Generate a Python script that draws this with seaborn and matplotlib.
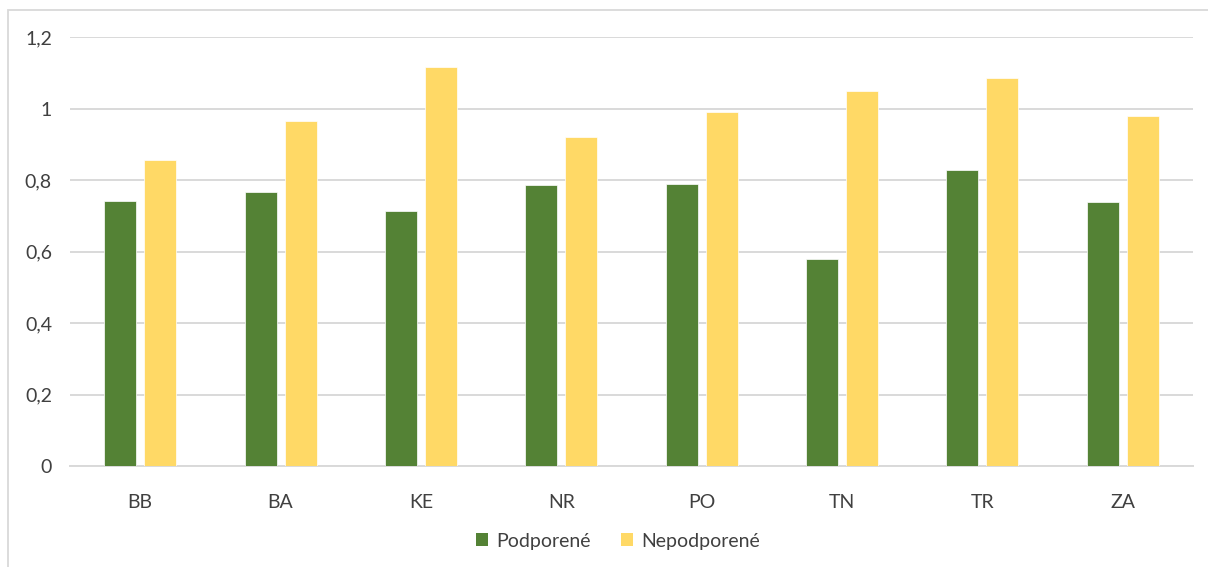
import matplotlib.pyplot as plt
import pandas as pd
import seaborn as sns
from matplotlib.patches import Rectangle, Patch

# Data
regions = ['BB', 'BA', 'KE', 'NR', 'PO', 'TN', 'TR', 'ZA']
podporene = [0.740, 0.766, 0.714, 0.785, 0.788, 0.579, 0.829, 0.739]
nepodporene = [0.855, 0.965, 1.116, 0.919, 0.989, 1.049, 1.084, 0.980]
series = ['Podporené', 'Nepodporené']
colors = ['#548235', '#FFD966']
y_ticks = [0, 0.2, 0.4, 0.6, 0.8, 1.0, 1.2]
y_tick_labels = ['0', '0,2', '0,4', '0,6', '0,8', '1', '1,2']

df = pd.DataFrame({'Kraj': regions, series[0]: podporene, series[1]: nepodporene})
df = df.melt(id_vars='Kraj', var_name='Skupina', value_name='Hodnota')

sns.set_style('white')
plt.rcParams['font.family'] = ['Lato', 'DejaVu Sans']
text_color = '#404040'

fig = plt.figure(figsize=(12.08, 5.67), dpi=100)
ax = fig.add_axes([70 / 1208, 1 - 466 / 567, (1193 - 70) / 1208, (466 - 37) / 567])

# Chart area border (only top and left edges are visible in the reference)
fig.patches.append(Rectangle((8 / 1208, -0.2), 1.2, 1.2 - 10 / 567,
                             transform=fig.transFigure, fill=False,
                             edgecolor='#d9d9d9', linewidth=1.3))

sns.barplot(data=df, x='Kraj', y='Hodnota', hue='Skupina', order=regions,
            hue_order=series, palette=colors, saturation=1, width=0.57, gap=0.2,
            edgecolor='white', linewidth=0.5, ax=ax, legend=False, zorder=3)

ax.set_ylim(0, 1.2)
ax.set_xlim(-0.5, len(regions) - 0.5)
ax.set_yticks(y_ticks)
ax.set_yticklabels(y_tick_labels)
ax.yaxis.grid(True, color='#d9d9d9', linewidth=1.4, zorder=0)
ax.set_axisbelow(True)
for side in ['top', 'right', 'left']:
    ax.spines[side].set_visible(False)
ax.spines['bottom'].set_color('#d9d9d9')
ax.spines['bottom'].set_linewidth(1.4)
ax.tick_params(axis='both', length=0, labelsize=14, labelcolor=text_color)
ax.tick_params(axis='y', pad=13)
ax.tick_params(axis='x', pad=20)
ax.set_xlabel('')
ax.set_ylabel('')

handles = [Patch(facecolor=c, edgecolor='none') for c in colors]
fig.legend(handles, series, loc='center', bbox_to_anchor=(618 / 1208, 1 - 541 / 567),
           ncol=2, frameon=False, fontsize=14, labelcolor=text_color,
           handlelength=0.6, handleheight=0.6, handletextpad=0.4, columnspacing=1.6)

fig.savefig('out.png', dpi=100)
